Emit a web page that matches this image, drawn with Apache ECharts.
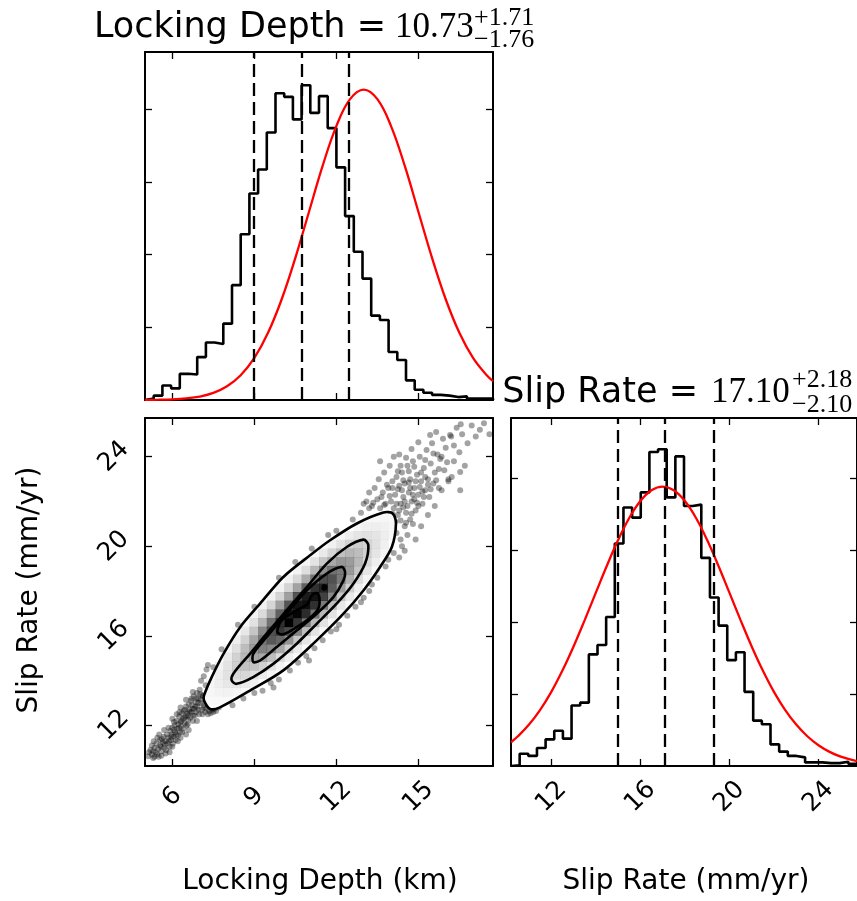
<!DOCTYPE html>
<html><head><meta charset="utf-8">
<script src="https://cdn.jsdelivr.net/npm/echarts@6/dist/echarts.min.js"></script>
<style>html,body{margin:0;padding:0;background:#fff}#c{width:857px;height:901px}</style>
</head><body><div id="c"></div>
<script>
// ---------------- data ----------------
const depthRange = [5.0, 17.73];
const slipRange = [10.19, 25.73];
const depthTicks = [6, 9, 12, 15];
const slipTicks = [12, 16, 20, 24];
const countTicks = [100, 200, 300, 400];
const depthCountMax = 478.7;
const slipCountMax = 483.3;
const nBins = 40;

const depthHist = [2,6,20,16,36,35,59,79,77,105,158,228,284,317,368,422,417,386,433,395,418,374,320,253,204,167,116,110,66,55,27,14,10,7,6,4,5,2,2,2];
const slipHist = [1,17,14,25,37,49,38,84,88,155,168,207,309,359,345,380,436,440,373,430,361,363,289,234,195,147,158,103,63,58,30,20,14,12,5,5,4,4,6,3];

const depthQuantiles = [8.97, 10.73, 12.44];
const slipQuantiles = [15.00, 17.10, 19.28];

const depthTitle = ['Locking Depth =', '10.73', '+1.71', '\u22121.76'];
const slipTitle = ['Slip Rate =', '17.10', '+2.18', '\u22122.10'];
const axisNames = ['Locking Depth (km)', 'Slip Rate (mm/yr)'];

const depthPriorX = [5.0,5.5,6.0,6.5,7.0,7.5,8.0,8.5,9.0,9.5,10.0,10.5,11.0,11.5,12.0,12.5,13.0,13.5,14.0,14.5,15.0,15.5,16.0,16.5,17.0,17.5,17.73];
const depthPriorY = [0.1,0.4,0.9,2.2,4.7,9.7,18.8,34.0,57.8,92.4,138.6,195.5,259.0,322.3,376.8,413.8,427.0,413.8,376.8,322.3,259.0,195.5,138.6,92.4,57.8,34.0,26.0];
const slipPriorX = [10.19,10.5,11.0,11.5,12.0,12.5,13.0,13.5,14.0,14.5,15.0,15.5,16.0,16.5,17.0,17.5,18.0,18.5,19.0,19.5,20.0,20.5,21.0,21.5,22.0,22.5,23.0,23.5,24.0,24.5,25.0,25.73];
const slipPriorY = [33.0,41.3,57.5,78.0,103.0,132.6,166.0,202.6,240.7,278.5,313.8,344.4,367.9,382.9,388.0,382.9,367.9,344.4,313.8,278.5,240.7,202.6,166.0,132.6,103.0,78.0,57.5,41.3,28.8,19.6,13.0,6.8];

// contour lines of the 2D density (outer to inner)
const contour86 = [[7.16,13.11],[7.38,12.74],[7.74,12.81],[8.84,13.56],[10.06,14.46],[11.28,15.80],[12.26,16.99],[12.99,18.03],[13.60,19.08],[14.03,19.97],[14.18,21.02],[14.06,21.47],[13.72,21.51],[12.75,21.02],[11.77,20.27],[11.04,19.60],[10.06,18.63],[9.21,17.44],[8.48,16.39],[7.87,15.20],[7.44,14.16],[7.16,13.34]];
const contour68 = [[8.23,14.31],[8.84,15.20],[9.45,16.10],[10.18,17.14],[10.92,18.18],[11.65,19.23],[12.38,19.97],[12.99,20.30],[13.17,20.05],[13.05,19.23],[12.62,18.33],[12.01,17.44],[11.28,16.54],[10.55,15.65],[9.69,14.75],[8.96,14.16],[8.35,13.86],[8.17,14.01]];
const contour39 = [[8.96,15.20],[9.45,15.95],[10.18,16.99],[10.92,18.03],[11.65,18.78],[12.20,19.08],[12.32,18.85],[12.26,18.48],[11.89,17.73],[11.28,16.99],[10.55,16.24],[9.82,15.50],[9.21,14.90],[8.96,14.83]];
const contour12 = [[9.84,16.17],[10.00,16.69],[10.49,17.11],[10.94,17.41],[11.10,17.81],[11.28,17.91],[11.38,17.71],[11.34,17.22],[11.04,16.81],[10.55,16.39],[10.06,16.07]];
const contour12b = [[11.50,18.10],[11.60,18.08],[11.62,18.22],[11.52,18.25]];

// 2D histogram (relative density) per x-bin: [xBin, first yBin, values...]
const densityColumns = [
 [7,7,[0.13,0.15,0.16]],
 [8,7,[0.13,0.18,0.22,0.22,0.19]],
 [9,7,[0.12,0.19,0.26,0.30,0.29,0.25,0.18]],
 [10,8,[0.17,0.26,0.35,0.39,0.38,0.31,0.22,0.13]],
 [11,8,[0.14,0.24,0.35,0.45,0.49,0.47,0.38,0.26,0.16]],
 [12,9,[0.18,0.31,0.45,0.56,0.60,0.56,0.44,0.30,0.18]],
 [13,10,[0.23,0.39,0.55,0.68,0.71,0.65,0.50,0.34,0.19]],
 [14,10,[0.15,0.29,0.47,0.65,0.79,0.81,0.72,0.55,0.36,0.20]],
 [15,11,[0.19,0.34,0.55,0.75,0.88,0.89,0.77,0.58,0.37,0.20]],
 [16,12,[0.22,0.40,0.62,0.83,1.00,0.94,0.80,0.58,0.37,0.20]],
 [17,12,[0.12,0.25,0.44,0.67,0.88,0.99,0.96,0.80,0.57,0.35,0.18]],
 [18,13,[0.13,0.27,0.47,0.70,0.90,0.97,0.94,0.77,0.54,0.32,0.17]],
 [19,14,[0.15,0.29,0.49,0.71,0.89,0.96,0.89,0.71,0.49,0.29,0.14]],
 [20,15,[0.15,0.29,0.49,0.69,0.85,0.92,0.82,0.64,0.43,0.25,0.12]],
 [21,16,[0.15,0.29,0.47,0.65,0.78,0.81,0.72,0.55,0.36,0.20,0.10]],
 [22,17,[0.15,0.27,0.43,0.59,0.70,0.70,0.61,0.46,0.29,0.16]],
 [23,18,[0.14,0.25,0.39,0.52,0.60,0.59,0.50,0.37,0.23]],
 [24,19,[0.12,0.22,0.33,0.44,0.49,0.47,0.40,0.28,0.17]],
 [25,21,[0.18,0.28,0.35,0.39,0.37,0.30,0.21,0.13]],
 [26,22,[0.15,0.22,0.28,0.30,0.28,0.22,0.15]],
 [27,24,[0.17,0.21,0.22,0.20,0.16]],
 [28,26,[0.15,0.16,0.14]]
];

// individual samples visible outside the outer contour
const samplesLowerTail = [[5.12,10.62],[5.2,10.9],[5.25,10.7],[5.3,10.55],[5.35,11.0],[5.4,10.8],[5.42,11.2],[5.48,10.95],[5.5,10.6],[5.55,11.35],[5.58,11.05],[5.6,10.85],[5.65,11.25],[5.68,11.5],[5.7,11.0],[5.75,11.3],[5.78,10.9],[5.8,11.6],[5.82,11.2],[5.85,11.45],[5.9,11.05],[5.92,11.75],[5.95,11.35],[5.98,11.6],[6.0,11.9],[6.02,11.2],[6.05,11.5],[6.08,12.0],[6.1,11.7],[6.12,11.35],[6.15,12.2],[6.18,11.85],[6.2,11.55],[6.22,12.05],[6.25,12.4],[6.28,11.7],[6.3,12.15],[6.32,11.95],[6.35,12.55],[6.38,12.3],[6.4,11.85],[6.42,12.65],[6.45,12.1],[6.48,12.4],[6.5,12.85],[6.52,12.0],[6.55,12.55],[6.58,12.25],[6.6,12.95],[6.62,12.7],[6.65,12.35],[6.68,13.1],[6.7,12.6],[6.72,12.9],[6.75,12.2],[6.78,13.3],[6.8,12.75],[6.82,12.45],[6.85,13.05],[6.88,12.6],[6.9,13.45],[6.92,12.85],[6.95,13.2],[6.98,12.5],[7.0,13.6],[7.05,13.0],[7.08,12.7],[7.1,13.35],[7.15,12.9],[7.2,12.6],[7.22,13.8],[7.25,12.75],[7.3,12.5],[7.35,12.65],[7.4,12.55],[7.45,12.7],[7.5,12.6],[7.55,12.75],[7.6,12.65],[7.7,12.8],[7.05,14.0],[7.15,14.2],[7.25,14.5],[6.3,12.8],[6.0,12.3],[5.7,11.8],[6.9,12.2],[6.6,11.8],[6.2,11.3],[5.9,10.8],[5.45,11.45],[5.35,10.6],[5.6,10.65],[5.15,10.8],[5.25,11.1],[6.5,13.15],[6.75,13.5],[7.3,14.7],
 [5.3,10.85],[5.45,10.7],[5.55,11.1],[5.62,11.4],[5.72,11.15],[5.88,11.3],[5.96,11.5],[6.06,11.8],[6.14,11.6],[6.24,11.9],[6.34,12.2],[6.44,12.35],[6.56,12.45],[6.64,12.6],[6.74,12.75],[6.84,12.85],[6.94,13.0],[7.04,13.15],[7.12,13.3],[6.46,12.7],[6.26,12.6],[6.06,12.15],[5.86,11.9],[6.36,11.7],[6.56,12.05],[6.76,12.45],[6.96,12.7],[7.16,12.8],[7.36,12.85],[5.52,11.6],[5.32,11.3],[6.7,13.2],[6.88,13.2],[7.02,13.4],[6.16,12.5],[6.5,11.6],[7.1,12.5],[5.75,10.75],[6.0,11.05],[6.3,11.45]];
const samplesBandEdges = [[8.2,12.9],[8.6,13.2],[9.0,13.45],[9.3,13.55],[9.6,13.9],[9.9,14.05],[10.3,14.45],[10.6,14.8],[10.9,15.1],[11.2,15.45],[11.5,15.8],[11.8,16.2],[12.1,16.5],[12.4,16.9],[12.7,17.3],[13.0,17.7],[13.3,18.3],[13.5,18.6],[13.8,19.1],[11.0,14.9],[12.0,16.3],[12.9,17.5],[9.7,13.7],[13.2,18.0],[7.5,14.6],[7.8,15.4],[8.4,16.5],[9.0,17.3],[9.9,18.6],[10.5,19.3],[11.1,19.9],[11.7,20.5],[12.0,20.7],[12.6,21.2],[12.9,21.5],[13.2,21.7]];
const samplesUpperTail = [[13.3,21.8],[13.5,22.1],[13.6,21.7],[13.7,22.4],[13.8,21.9],[13.9,22.6],[14.0,22.0],[14.05,22.9],[14.1,21.7],[14.15,22.3],[14.2,23.1],[14.25,21.4],[14.3,22.7],[14.35,21.9],[14.4,23.3],[14.45,22.2],[14.5,20.9],[14.5,22.8],[14.55,21.5],[14.6,23.6],[14.65,22.4],[14.7,21.2],[14.7,23.0],[14.75,22.0],[14.8,23.8],[14.85,22.6],[14.9,21.6],[14.95,23.2],[15.0,22.3],[15.05,24.0],[15.1,22.9],[15.15,21.9],[15.2,23.5],[15.25,22.5],[15.3,24.3],[15.35,23.0],[15.4,22.2],[15.45,23.7],[15.5,24.6],[15.55,22.8],[15.6,23.3],[15.7,24.1],[15.75,22.6],[15.8,23.9],[15.9,24.8],[15.95,23.4],[16.0,24.4],[16.1,23.0],[16.2,24.9],[16.3,23.8],[16.4,25.3],[16.5,24.2],[16.6,25.0],[16.7,23.6],[16.8,24.6],[16.95,25.4],[17.1,24.9],[17.25,25.2],[17.4,25.5],[17.6,25.0],[16.55,25.45],[15.65,25.1],[14.2,20.6],[14.35,20.3],[14.6,20.5],[14.8,21.0],[14.4,20.0],[14.9,20.3],[15.1,20.9],[14.3,19.5],[14.5,19.8],[14.1,19.7],[13.9,19.4],[13.8,20.0],[14.0,20.3],[13.4,22.6],[13.1,22.0],[13.2,22.4],[13.0,21.9],[13.55,23.0],[13.75,23.3],[13.95,23.6],[14.1,24.0],[14.3,24.1],[13.6,23.8],[13.35,21.95],[13.65,22.2],[13.85,22.75],[14.05,21.45],[14.25,22.55],[14.45,21.75],[14.65,22.85],[14.85,22.1],[15.05,22.65],[15.25,23.1],[15.45,22.55],[14.55,23.95],[14.75,24.35],[15.0,24.65],[14.35,23.6],[15.85,22.5],[16.1,22.9],[16.3,24.5],[15.35,21.4],[15.6,21.8],[16.53,22.5],[16.22,23.1],[16.53,23.32],[15.85,24.0],[16.16,24.97],[15.43,24.97],
 [14.2,21.9],[14.3,21.6],[14.4,22.5],[14.5,22.0],[14.6,21.8],[14.7,22.6],[14.8,22.3],[14.9,22.9],[15.0,21.8],[15.1,23.3],[15.2,22.2],[14.15,21.1],[14.35,21.15],[14.55,21.05],[14.75,21.45],[14.95,21.95],[15.15,22.45],[15.35,22.75],[14.45,22.95],[14.25,23.35],[13.95,22.25],[13.75,21.85],[14.05,22.6],[14.65,23.35],[14.85,23.55],[15.25,23.85],[15.55,24.15],[15.75,23.45],[16.05,23.75],[15.65,22.95]];

// ---------------- build ----------------
function steps(hist, range) {
  const w = (range[1] - range[0]) / hist.length;
  const pts = [[range[0], 0]];
  hist.forEach((c, i) => { pts.push([range[0] + i * w, c]); pts.push([range[0] + (i + 1) * w, c]); });
  pts.push([range[1], 0]);
  return pts;
}
const zip = (xs, ys) => xs.map((x, i) => [x, ys[i]]);
const dx = (depthRange[1] - depthRange[0]) / nBins;
const dy = (slipRange[1] - slipRange[0]) / nBins;
const cells = [];
densityColumns.forEach(([k, j0, vals]) => vals.forEach((v, i) => cells.push([depthRange[0] + k * dx, slipRange[0] + (j0 + i) * dy, v])));
const contours = [contour86, contour68, contour39, contour12, contour12b];
const samples = samplesLowerTail.concat(samplesBandEdges, samplesUpperTail);

const FONT = 'DejaVu Sans';
function axis(gridIndex, range, ticks, position, showLabels) {
  return {
    type: 'value', gridIndex, min: range[0], max: range[1], position,
    axisLine: { show: true, onZero: false, lineStyle: { color: '#000', width: 2 } },
    axisTick: { show: true, inside: true, length: 7, customValues: ticks, lineStyle: { color: '#000', width: 1.3 } },
    axisLabel: { show: showLabels, customValues: ticks, rotate: 45, margin: 31, align: 'center', verticalAlign: 'middle',
      fontSize: 25, color: '#000', fontFamily: FONT },
    splitLine: { show: false }
  };
}
const countRange1 = [0, depthCountMax], countRange2 = [0, slipCountMax];
const grids = [
  { left: 145, top: 52, width: 348, height: 348 },
  { left: 145, top: 418, width: 348, height: 348 },
  { left: 511, top: 418, width: 348, height: 348 }
];
const xAxes = [
  axis(0, depthRange, depthTicks, 'bottom', false), axis(0, depthRange, depthTicks, 'top', false),
  axis(1, depthRange, depthTicks, 'bottom', true), axis(1, depthRange, depthTicks, 'top', false),
  axis(2, slipRange, slipTicks, 'bottom', true), axis(2, slipRange, slipTicks, 'top', false)
];
const yAxes = [
  axis(0, countRange1, countTicks, 'left', false), axis(0, countRange1, countTicks, 'right', false),
  axis(1, slipRange, slipTicks, 'left', true), axis(1, slipRange, slipTicks, 'right', false),
  axis(2, countRange2, countTicks, 'left', false), axis(2, countRange2, countTicks, 'right', false)
];

function quantileLines(qs) {
  return { symbol: 'none', silent: true, label: { show: false }, animation: false,
    lineStyle: { type: [13, 6], color: '#000', width: 2.3 }, data: qs.map(q => ({ xAxis: q })) };
}
function histSeries(hist, range, xi, yi, qs) {
  return { type: 'line', xAxisIndex: xi, yAxisIndex: yi, data: steps(hist, range), showSymbol: false, symbol: 'none',
    lineStyle: { color: '#000', width: 2.6 }, z: 3, clip: true, markLine: quantileLines(qs) };
}
function priorSeries(xs, ys, xi, yi) {
  return { type: 'line', xAxisIndex: xi, yAxisIndex: yi, data: zip(xs, ys), showSymbol: false, symbol: 'none',
    smooth: 0.4, lineStyle: { color: '#ff0000', width: 2.3 }, z: 4, clip: true };
}

const series = [
  histSeries(depthHist, depthRange, 0, 0, depthQuantiles),
  priorSeries(depthPriorX, depthPriorY, 0, 0),
  histSeries(slipHist, slipRange, 4, 4, slipQuantiles),
  priorSeries(slipPriorX, slipPriorY, 4, 4),
  { type: 'scatter', xAxisIndex: 2, yAxisIndex: 2, data: samples, symbolSize: 6,
    itemStyle: { color: 'rgba(0,0,0,0.45)' }, z: 1, silent: true },
  { type: 'custom', xAxisIndex: 2, yAxisIndex: 2, data: [[0]], z: 2, silent: true, clip: true,
    renderItem: (params, api) => ({ type: 'polygon', shape: { points: contour86.map(p => api.coord(p)), smooth: 0.3 },
      style: { fill: '#ffffff', stroke: null } }) },
  { type: 'custom', xAxisIndex: 2, yAxisIndex: 2, data: cells, z: 3, silent: true, clip: true,
    renderItem: (params, api) => {
      const x0 = api.value(0), y0 = api.value(1), v = api.value(2);
      const p0 = api.coord([x0, y0 + dy]), p1 = api.coord([x0 + dx, y0]);
      const a = Math.pow(v, 1.8);
      return { type: 'rect', shape: { x: p0[0], y: p0[1], width: p1[0] - p0[0] + 0.3, height: p1[1] - p0[1] + 0.3 },
        style: { fill: 'rgba(0,0,0,' + a.toFixed(3) + ')' } };
    } },
  { type: 'custom', xAxisIndex: 2, yAxisIndex: 2, data: contours.map((c, i) => [i]), z: 4, silent: true, clip: true,
    renderItem: (params, api) => ({ type: 'polygon',
      shape: { points: contours[params.dataIndex].map(p => api.coord(p)), smooth: 0.3 },
      style: { fill: params.dataIndex === 4 ? '#000' : null, stroke: '#000', lineWidth: 2.6 } }) }
];

function txt(x, y, text, font, align, rot) {
  return { type: 'text', x, y, rotation: rot || 0, silent: true,
    style: { text, font, fill: '#000', textAlign: align, textVerticalAlign: 'middle', align, verticalAlign: 'middle' } };
}
const graphics = [
  txt(386, 28, depthTitle[0], '35px "DejaVu Sans"', 'right'),
  txt(395, 28, depthTitle[1], '35px "Liberation Serif"', 'left'),
  txt(474, 18, depthTitle[2], '26px "Liberation Serif"', 'left'),
  txt(474, 40, depthTitle[3], '26px "Liberation Serif"', 'left'),
  txt(698, 393, slipTitle[0], '35px "DejaVu Sans"', 'right'),
  txt(711, 393, slipTitle[1], '35px "Liberation Serif"', 'left'),
  txt(792, 380, slipTitle[2], '26px "Liberation Serif"', 'left'),
  txt(792, 405, slipTitle[3], '26px "Liberation Serif"', 'left'),
  txt(320, 882, axisNames[0], '28px "DejaVu Sans"', 'center'),
  txt(686, 882, axisNames[1], '28px "DejaVu Sans"', 'center'),
  txt(30, 590, axisNames[1], '28px "DejaVu Sans"', 'center', Math.PI / 2)
];

const chart = echarts.init(document.getElementById('c'), null, { renderer: 'canvas' });
chart.setOption({
  animation: false,
  backgroundColor: '#ffffff',
  textStyle: { fontFamily: FONT },
  grid: grids,
  xAxis: xAxes,
  yAxis: yAxes,
  series,
  graphic: { elements: graphics }
});
</script>
</body></html>
